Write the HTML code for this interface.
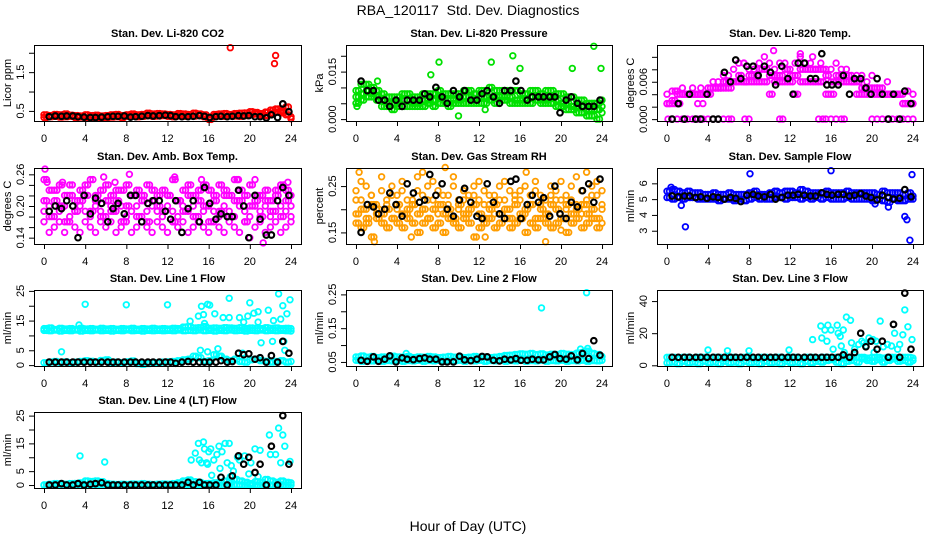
<!DOCTYPE html>
<html><head><meta charset="utf-8"><title>RBA_120117 Std. Dev. Diagnostics</title>
<style>
html,body{margin:0;padding:0;background:#fff;}
svg{display:block;font-family:"Liberation Sans",Arial,sans-serif;}
</style></head>
<body>
<svg id="chart" width="936" height="540" viewBox="0 0 936 540" xmlns="http://www.w3.org/2000/svg">
<rect width="936" height="540" fill="#fff"/>
<text x="468" y="15" font-size="14" text-anchor="middle" style="white-space:pre">RBA_120117  Std. Dev. Diagnostics</text>
<text x="468" y="531" font-size="14" text-anchor="middle">Hour of Day (UTC)</text>
</svg>
<script>
const hoursA = [0,0.5,1,1.5,2,2.5,3,3.5,4,4.5,5,5.5,6,6.5,7,7.5,8,8.5,9,9.5,10,10.5,11,11.5,12,12.5,13,13.5,14,14.5,15,15.5,16,16.5,17,17.5,18,18.5,19,19.5,20,20.5,21,21.5,22,22.5,23,23.5,24];
const hoursC = [0.25,0.75,1.25,1.75,2.25,2.75,3.25,3.75,4.25,4.75,5.25,5.75,6.25,6.75,7.25,7.75,8.25,8.75,9.25,9.75,10.25,10.75,11.25,11.75,12.25,12.75,13.25,13.75,14.25,14.75,15.25,15.75,16.25,16.75,17.25,17.75,18.25,18.75,19.25,19.75,20.25,20.75,21.25,21.75,22.25,22.75,23.25,23.75];
const hoursB = [0.5,1.1,1.7,2.2,2.8,3.3,3.9,4.5,5.0,5.6,6.2,6.7,7.2,7.8,8.4,8.9,9.5,10.1,10.6,11.2,11.8,12.3,12.8,13.4,14.0,14.5,15.1,15.6,16.1,16.7,17.2,17.8,18.3,18.9,19.4,19.9,20.5,21.0,21.6,22.1,22.7,23.2,23.8];
const xTicks = [0,4,8,12,16,20,24];

// CO2
const co2L1 = [0.33,0.35,0.36,0.34,0.35,0.36,0.33,0.34,0.32,0.33,0.31,0.32,0.33,0.34,0.35,0.33,0.36,0.37,0.35,0.36,0.38,0.36,0.37,0.38,0.36,0.35,0.37,0.36,0.38,0.37,0.39,0.35,0.33,0.36,0.37,0.36,0.38,0.37,0.36,0.38,0.40,0.42,0.39,0.38,0.44,0.47,0.50,0.40,0.35];
const co2L2 = [0.40,0.38,0.41,0.40,0.42,0.39,0.38,0.37,0.40,0.38,0.39,0.37,0.38,0.40,0.41,0.38,0.40,0.42,0.40,0.41,0.44,0.42,0.43,0.42,0.41,0.40,0.43,0.42,0.41,0.44,0.42,0.40,0.28,0.41,0.42,0.43,0.41,0.43,0.44,0.45,0.48,0.46,0.43,0.47,0.52,0.55,0.45,0.60,0.30];
const co2OutX = [18.1,22.4,22.5];
const co2OutY = [2.13,1.72,1.93];
const co2Black = [0.35,0.37,0.36,0.37,0.37,0.35,0.34,0.33,0.33,0.34,0.35,0.36,0.36,0.37,0.34,0.35,0.36,0.38,0.37,0.38,0.39,0.38,0.35,0.35,0.35,0.36,0.38,0.36,0.33,0.35,0.36,0.35,0.36,0.38,0.37,0.38,0.35,0.35,0.32,0.40,0.33,0.68,0.48];
const co2Ticks = [0.5,1.0,1.5,2.0];
const co2TickLabels = ["0.5","","1.5",""];

// Pressure
const presL1 = [0.009,0.011,0.011,0.010,0.009,0.008,0.007,0.007,0.007,0.008,0.008,0.007,0.007,0.008,0.008,0.008,0.009,0.008,0.008,0.008,0.008,0.009,0.009,0.008,0.009,0.009,0.010,0.009,0.009,0.009,0.009,0.009,0.008,0.008,0.009,0.009,0.008,0.009,0.009,0.008,0.008,0.007,0.007,0.006,0.006,0.005,0.005,0.005,0.006];
const presL2 = [0.007,0.008,0.009,0.008,0.007,0.006,0.005,0.005,0.005,0.006,0.006,0.005,0.005,0.006,0.006,0.006,0.007,0.006,0.006,0.006,0.006,0.007,0.007,0.006,0.007,0.007,0.007,0.007,0.007,0.007,0.007,0.006,0.006,0.006,0.007,0.007,0.006,0.006,0.007,0.006,0.005,0.005,0.004,0.004,0.004,0.003,0.003,0.003,0.004];
const presL3 = [0.005,0.006,0.007,0.007,0.006,0.004,0.004,0.003,0.004,0.004,0.004,0.004,0.004,0.004,0.005,0.004,0.005,0.005,0.004,0.005,0.005,0.005,0.005,0.005,0.005,0.005,0.006,0.005,0.006,0.006,0.005,0.005,0.005,0.005,0.005,0.006,0.005,0.005,0.005,0.004,0.004,0.003,0.003,0.002,0.002,0.001,0.001,0.000,0.002];
const presOutX = [0.1,2.1,7.3,8.1,10.0,12.6,13.2,15.3,16.0,21.1,23.2,23.9];
const presOutY = [0.004,0.012,0.014,0.018,0.001,0.003,0.018,0.020,0.016,0.016,0.023,0.016];
const presBlack = [0.012,0.009,0.009,0.006,0.006,0.004,0.006,0.004,0.006,0.006,0.006,0.008,0.007,0.010,0.007,0.005,0.009,0.007,0.009,0.006,0.006,0.008,0.009,0.007,0.005,0.009,0.009,0.012,0.009,0.006,0.007,0.007,0.007,0.007,0.007,0.002,0.006,0.007,0.005,0.004,0.004,0.004,0.006];
const presTicks = [0,0.005,0.010,0.015,0.020];
const presTickLabels = ["0.000","","","0.015",""];

// Temp
const tempZeroX = [0.1,0.5,1,1.5,2,2.5,3,3.5,4,4.5,5,5.5,6,6.3,7.6,8,11,11.3,14.8,15.2,15.5,16,16.5,17,17.3,20,20.5,21,21.5,22,22.5,23,23.5,24];
const tempZeroY = [0,0,0,0,0,0,0,0,0,0,0,0,0,0,0,0,0,0,0,0,0,0,0,0,0,0,0,0,0,0,0,0,0,0];
const tempL1 = [0.0025,0.003,0.004,0.004,0.004,0.004,0.004,0.004,0.004,0.005,0.005,0.005,0.005,0.006,0.007,0.006,0.007,0.007,0.008,0.008,0.007,0.007,0.007,0.008,0.007,0.007,0.008,0.008,0.008,0.008,0.008,0.007,0.006,0.007,0.007,0.007,0.006,0.006,0.005,0.005,0.005,0.005,0.004,0.004,0.004,0.004,0.0025,0.0025,0.0025];
const tempL2 = [0.004,0.0045,0.0045,0.005,0.004,0.005,0.0025,0.0025,0.004,0.006,0.006,0.007,0.007,0.008,0.009,0.009,0.008,0.008,0.009,0.010,0.009,0.008,0.009,0.009,0.008,0.009,0.010,0.009,0.009,0.008,0.009,0.008,0.008,0.009,0.008,0.008,0.007,0.007,0.007,0.006,0.007,0.005,0.005,0.006,0.004,0.004,0.004,0.0045,0.004];
const tempL3 = [0.0025,0.0025,0.0025,0.004,0.004,0.004,0.004,0.004,0.005,0.005,0.005,0.006,0.006,0.006,0.006,0.006,0.006,0.006,0.006,0.006,0.004,0.006,0.006,0.006,0.006,0.004,0.006,0.006,0.006,0.006,0.006,0.004,0.004,0.006,0.006,0.006,0.006,0.004,0.004,0.004,0.004,0.004,0.004,0.004,0.004,0.004,0.0025,0.0025,0.0025];
const tempOutX = [0.8,3.3,7.5,10.4,13,14.2];
const tempOutY = [0.0045,0.005,0.009,0.011,0.0105,0.010];
const tempBlack = [0.0,0.0025,0.0,0.004,0.0,0.0,0.004,0.0,0.0,0.0075,0.006,0.0095,0.0065,0.0085,0.0085,0.007,0.0085,0.0075,0.0055,0.0085,0.0065,0.004,0.009,0.009,0.0065,0.0065,0.0105,0.0055,0.0055,0.0055,0.007,0.004,0.0065,0.0065,0.005,0.004,0.0065,0.004,0.0,0.004,0.0,0.0045,0.0025];
const tempTicks = [0,0.002,0.004,0.006,0.008,0.010];
const tempTickLabels = ["0.000","","","0.006","",""];

// Amb box temp
const ambL1 = [0.25,0.23,0.21,0.24,0.22,0.24,0.21,0.23,0.22,0.25,0.21,0.23,0.24,0.22,0.21,0.23,0.24,0.22,0.23,0.22,0.24,0.21,0.22,0.23,0.22,0.25,0.21,0.23,0.24,0.22,0.21,0.24,0.23,0.22,0.24,0.23,0.22,0.25,0.21,0.22,0.24,0.21,0.22,0.23,0.21,0.22,0.24,0.23,0.22];
const ambL2 = [0.19,0.20,0.18,0.19,0.20,0.18,0.19,0.20,0.19,0.18,0.20,0.19,0.18,0.20,0.19,0.20,0.18,0.19,0.20,0.18,0.19,0.20,0.19,0.18,0.20,0.19,0.18,0.20,0.19,0.20,0.18,0.19,0.20,0.19,0.18,0.20,0.19,0.18,0.20,0.19,0.18,0.20,0.19,0.20,0.18,0.19,0.20,0.19,0.18];
const ambL3 = [0.17,0.15,0.16,0.17,0.15,0.17,0.16,0.15,0.17,0.16,0.15,0.17,0.16,0.17,0.15,0.16,0.17,0.15,0.16,0.17,0.16,0.15,0.17,0.16,0.15,0.17,0.16,0.17,0.15,0.16,0.17,0.16,0.15,0.17,0.16,0.15,0.17,0.16,0.15,0.17,0.14,0.16,0.17,0.15,0.16,0.17,0.15,0.16,0.17];
const ambL4 = [0.21,0.18,0.23,0.20,0.17,0.22,0.19,0.21,0.24,0.19,0.22,0.18,0.21,0.19,0.23,0.17,0.20,0.22,0.18,0.21,0.17,0.23,0.20,0.19,0.22,0.17,0.21,0.19,0.22,0.18,0.23,0.20,0.17,0.21,0.19,0.22,0.18,0.21,0.23,0.17,0.20,0.22,0.18,0.21,0.19,0.23,0.18,0.21,0.20];
const ambOutX = [0.1,0.3,1.8,5.8,6.9,8.3,12.7,15.3,18.9,20.5,23.7,21.3];
const ambOutY = [0.27,0.245,0.245,0.255,0.245,0.26,0.255,0.25,0.25,0.25,0.245,0.13];
const ambBlack = [0.19,0.20,0.195,0.21,0.20,0.14,0.22,0.185,0.215,0.205,0.17,0.195,0.205,0.185,0.22,0.22,0.17,0.205,0.21,0.21,0.19,0.175,0.21,0.15,0.195,0.21,0.17,0.235,0.205,0.175,0.185,0.18,0.18,0.23,0.20,0.14,0.22,0.175,0.145,0.145,0.21,0.235,0.22];
const ambTicks = [0.14,0.16,0.18,0.20,0.22,0.24,0.26];
const ambTickLabels = ["0.14","","","0.20","","","0.26"];

// RH
const rhL1 = [0.24,0.22,0.25,0.23,0.21,0.24,0.22,0.25,0.23,0.24,0.22,0.21,0.24,0.23,0.25,0.22,0.24,0.23,0.21,0.25,0.22,0.24,0.23,0.25,0.22,0.24,0.21,0.23,0.25,0.22,0.24,0.23,0.22,0.25,0.21,0.24,0.23,0.22,0.25,0.24,0.22,0.23,0.25,0.21,0.24,0.22,0.25,0.23,0.24];
const rhL2 = [0.19,0.20,0.18,0.21,0.20,0.19,0.20,0.18,0.21,0.19,0.20,0.21,0.19,0.20,0.18,0.20,0.21,0.19,0.20,0.18,0.21,0.19,0.20,0.21,0.19,0.18,0.20,0.21,0.19,0.20,0.18,0.21,0.19,0.20,0.21,0.18,0.20,0.19,0.21,0.20,0.18,0.21,0.19,0.20,0.21,0.19,0.20,0.18,0.21];
const rhL3 = [0.17,0.16,0.17,0.14,0.18,0.17,0.16,0.18,0.17,0.16,0.18,0.17,0.15,0.17,0.18,0.16,0.17,0.15,0.18,0.17,0.16,0.18,0.17,0.14,0.16,0.17,0.18,0.16,0.17,0.18,0.16,0.17,0.18,0.15,0.17,0.16,0.18,0.17,0.16,0.17,0.18,0.15,0.17,0.18,0.16,0.17,0.18,0.16,0.17];
const rhL4 = [0.22,0.26,0.20,0.23,0.19,0.27,0.21,0.23,0.20,0.26,0.19,0.22,0.27,0.20,0.22,0.26,0.19,0.21,0.23,0.27,0.20,0.22,0.19,0.23,0.26,0.21,0.23,0.19,0.22,0.26,0.20,0.22,0.24,0.19,0.23,0.26,0.21,0.19,0.23,0.22,0.26,0.20,0.22,0.27,0.19,0.21,0.23,0.26,0.20];
const rhOutX = [0.3,1.8,6.5,8.7,16.6,18.5,22.5,5.4,12.6,20.0];
const rhOutY = [0.28,0.13,0.28,0.29,0.28,0.13,0.28,0.14,0.14,0.155];
const rhBlack = [0.15,0.21,0.205,0.19,0.20,0.235,0.21,0.185,0.255,0.235,0.215,0.22,0.275,0.23,0.255,0.20,0.185,0.22,0.245,0.215,0.185,0.18,0.255,0.215,0.19,0.18,0.26,0.265,0.18,0.21,0.23,0.215,0.225,0.185,0.25,0.19,0.18,0.215,0.205,0.24,0.255,0.215,0.265];
const rhTicks = [0.15,0.20,0.25];
const rhTickLabels = ["0.15","","0.25"];

// Sample flow
const sfL1 = [5.5,5.6,5.5,5.4,5.5,5.4,5.4,5.3,5.3,5.4,5.3,5.3,5.4,5.3,5.3,5.3,5.4,5.5,5.3,5.3,5.4,5.5,5.4,5.5,5.5,5.4,5.6,5.5,5.4,5.4,5.4,5.5,5.4,5.4,5.4,5.5,5.4,5.4,5.4,5.4,5.4,5.3,5.5,5.4,5.4,5.4,5.3,5.4,5.2];
const sfL2 = [5.1,5.0,5.1,5.0,5.1,5.1,5.0,5.0,5.0,5.0,4.9,5.0,5.0,4.9,5.0,4.9,5.0,5.1,5.0,5.0,5.0,5.1,5.1,5.0,5.1,5.1,5.0,5.1,5.0,5.1,5.0,5.1,5.0,5.0,5.0,5.1,5.0,5.0,5.0,5.0,4.9,5.0,4.9,4.8,5.0,4.9,4.9,5.0,5.0];
const sfOutX = [0.4,1.4,1.8,8.1,16,20.3,21.6,23.2,23.4,23.7,23.9];
const sfOutY = [5.75,4.6,3.25,6.6,6.8,4.7,4.5,3.9,3.7,2.4,6.55];
const sfBlack = [5.2,5.15,5.2,5.2,5.1,5.15,5.05,5.15,5.1,5.0,5.1,5.05,4.85,5.25,5.3,5.2,5.15,5.3,5.0,5.1,5.25,5.25,5.3,5.25,5.2,5.2,5.4,5.3,5.25,5.3,5.3,5.2,5.25,5.35,5.2,5.1,4.95,5.25,5.1,5.0,5.05,5.6,5.15];
const sfTicks = [3,4,5,6];
const sfTickLabels = ["3","4","5","6"];

// Line 1
const l1A = [12.3,12.5,12.0,12.4,12.2,12.3,12.0,12.4,12.2,12.3,12.1,12.4,12.2,12.3,12.1,12.3,12.2,12.4,12.1,12.3,12.2,12.4,12.2,12.3,12.2,12.4,12.3,12.8,13.0,12.5,12.6,13.0,12.4,12.5,12.4,12.6,12.5,12.4,12.6,12.3,12.5,12.4,12.3,12.6,12.4,12.5,12.3,12.4,12.3];
const l1B = [11.7,11.6,11.8,11.5,11.7,11.6,11.8,11.5,11.7,11.6,11.8,11.6,11.7,11.5,11.7,11.6,11.8,11.6,11.7,11.5,11.7,11.6,11.7,11.6,11.7,11.6,11.8,11.6,11.7,11.6,11.8,11.6,11.7,11.5,11.7,11.6,11.8,11.6,11.7,11.5,11.7,11.6,11.8,11.6,11.7,11.6,11.7,11.6,11.5];
const l1Low = [0.8,1.0,1.2,0.9,1.1,0.8,1.0,1.2,1.5,1.3,1.0,1.6,1.8,0.6,1.0,0.8,1.1,1.4,0.5,0.3,0.5,0.9,0.8,1.0,1.1,1.2,1.5,1.8,2.0,3.0,2.5,1.2,1.5,3.5,3.0,2.0,1.5,2.0,1.2,1.0,1.8,2.0,1.5,1.3,1.0,1.2,1.5,1.0,1.2];
const l1OutX = [1.7,3.4,4.0,8.0,12.0,14.2,15.0,15.3,15.5,15.6,15.9,16.1,16.6,17.4,18.0,18.0,19.0,19.4,19.8,20.0,20.4,20.8,20.8,21.1,21.8,22.2,22.3,22.8,23.0,23.2,23.4,23.6,23.9,15.2,15.9,16.9,17.1,19.3,23.3];
const l1OutY = [4.5,13.5,20.5,20.3,20.3,14.8,16.5,19.8,17.0,14.0,20.5,20.2,17.3,16.0,22.5,16.0,16.0,14.5,16.5,21.0,17.5,18.0,14.5,7.5,18.5,8.0,15.0,24.0,15.5,20.0,5.0,17.3,22.0,5.0,4.5,5.5,3.0,4.0,8.0];
const l1Black = [1,1,1,1,1,1,1,1,1,1,1,1,1,1,1,1,1,1,1,1,1,1,0.6,1,1.2,1,1,1,1,1,1.5,1,1.2,4,3.5,3.8,2,2.5,1,3.2,1,8,4];
const l1Ticks = [0,5,10,15,20,25];
const l1TickLabels = ["0","5","","15","","25"];

// Line 2
const l2A = [0.065,0.068,0.064,0.066,0.063,0.065,0.064,0.067,0.065,0.064,0.066,0.063,0.065,0.064,0.066,0.065,0.063,0.064,0.066,0.064,0.065,0.063,0.064,0.066,0.064,0.065,0.063,0.064,0.066,0.069,0.070,0.072,0.074,0.073,0.075,0.072,0.074,0.071,0.073,0.072,0.075,0.073,0.072,0.076,0.078,0.082,0.075,0.072,0.066];
const l2B = [0.055,0.052,0.054,0.053,0.055,0.052,0.054,0.053,0.055,0.052,0.054,0.053,0.055,0.052,0.054,0.053,0.055,0.052,0.054,0.053,0.055,0.052,0.054,0.053,0.055,0.052,0.054,0.053,0.055,0.052,0.054,0.053,0.055,0.052,0.054,0.053,0.055,0.052,0.054,0.053,0.055,0.052,0.054,0.053,0.055,0.052,0.054,0.053,0.055];
const l2OutX = [18.1,22.5,21.9,22.6,4.9];
const l2OutY = [0.21,0.255,0.088,0.09,0.075];
const l2Black = [0.055,0.052,0.065,0.052,0.058,0.068,0.05,0.062,0.058,0.057,0.06,0.062,0.058,0.058,0.05,0.05,0.05,0.067,0.056,0.054,0.058,0.066,0.065,0.055,0.053,0.058,0.056,0.06,0.055,0.055,0.058,0.056,0.056,0.065,0.072,0.06,0.058,0.068,0.056,0.075,0.06,0.113,0.07];
const l2Ticks = [0.05,0.10,0.15,0.20,0.25];
const l2TickLabels = ["0.05","","0.15","","0.25"];

// Line 3
const l3A = [5,5,4.5,5,5,4.5,5,5,4.5,5,5,4.5,5,5,4.5,5,5,4.5,5,5,4.5,5,5,4.5,5,5,4.5,5,5,4.5,5,5,4.5,5,5,4.5,5,5,5,4.5,5,5,4.5,5,5,4.5,5,5,4.5];
const l3B = [1.5,2,1,2.5,1.5,2,1,2.5,1.5,2,1,2.5,1.5,2,1,2.5,1.5,2,1,2.5,1.5,2,1,2.5,1.5,2,1,2.5,1.5,2.5,2,3,3.5,2,1,2.5,3,2,4,3,2.5,3.5,2,3,4,2.5,3,2,3];
const l3OutX = [4.0,5.9,8.0,11.9,14.2,15.0,15.1,15.4,15.6,15.7,16.0,16.2,16.6,16.7,17.0,17.2,17.5,17.9,18.0,18.3,18.7,19.0,19.4,19.7,20.1,20.4,20.8,21.1,21.5,21.9,22.2,22.5,22.7,23.0,23.2,23.5,23.9,16.9,17.3,19.2,20.2];
const l3OutY = [9.5,9.0,9.0,9.5,16,24.5,17,22,15,25,22,10,25,20,12,22,30,28,14,10,13,15,12,17,16,15,27.5,11.5,13,12,20,10,13,19,34.5,24,16,18,8,14,8];
const l3Black = [5,5,5,5,5,5,5,5,5,5,5,5,5,5,5,5,5,5,5,5,5,5,5,5,5,5,5,5,5,5,6.5,5,8,20,11.5,15,10,15,5,25.5,5,45,10];
const l3Ticks = [0,20,40];
const l3TickLabels = ["0","20","40"];

// Line 4
const l4A = [0,0.3,0.5,0.4,0.3,0.5,0.6,0.8,1.5,1.3,1.5,1.2,0.5,0.3,0.2,0.3,0.2,0.4,0.3,0.5,0.3,0.2,0.3,0.4,0.3,0.5,0.8,1.5,1.8,1.2,1.0,0.5,0.6,0.8,1.0,1.5,1.0,2.0,1.5,1.0,0.5,1.2,1.0,2.0,1.5,1.0,1.5,1.0,0.8];
const l4B = [0,0,0,0,0,0,0,0,0,0,0,0,0,0,0,0,0,0,0,0,0,0,0,0,0,0,0,0,0,0,0,0,0,0,0,0,0,0,0,0,0,0,0,0,0,0,0,0,0];
const l4OutX = [3.5,5.9,14.3,14.7,15.0,15.1,15.3,15.5,15.6,15.8,16.0,16.2,16.5,16.8,17.0,17.3,17.6,17.8,18.0,18.2,18.4,18.8,19.0,19.5,19.9,20.1,20.5,20.8,21.0,21.9,22.0,22.5,22.8,23.0,23.2,23.4,23.9,15.9,16.3,17.1,18.1];
const l4OutY = [10.5,8.3,9,11.5,15,9,8,15.5,13,8,12,13,9,11,14,12,15,8,15,7,5,10,9,10.5,4,8,13,3,12.5,18,11,11,20.5,8,18,14,8.5,7.5,3.5,6,3];
const l4Black = [0,0,0.5,0,0,0.5,0,0.3,0.5,0.8,0,0,0,0,0,0,0,0,0,0,0,0,0,0,1,0,1,0,0,0,2.8,0,3.3,10.5,7.5,10,4.5,7.5,0,14,0,25,7.5];
const l4Ticks = [0,5,10,15,20,25];
const l4TickLabels = ["0","5","","15","","25"];

const panels = [
 {key:"co2", title:"Stan. Dev. Li-820 CO2", ylab:"Licor ppm", col:0,row:0, ymin:0.24,ymax:2.2, color:"#ff0000",
  layers:[[hoursA,co2L1],[hoursA,co2L2],[hoursC,co2L2],[hoursC,co2L1],[co2OutX,co2OutY]], black:co2Black, ticks:co2Ticks, labels:co2TickLabels},
 {key:"pressure", title:"Stan. Dev. Li-820 Pressure", ylab:"kPa", col:1,row:0, ymin:-0.0006,ymax:0.0234, color:"#00e000",
  layers:[[hoursA,presL1],[hoursA,presL2],[hoursA,presL3],[hoursC,presL2],[hoursC,presL1],[hoursC,presL3],[presOutX,presOutY]], black:presBlack, ticks:presTicks, labels:presTickLabels},
 {key:"temp", title:"Stan. Dev. Li-820 Temp.", ylab:"degrees C", col:2,row:0, ymin:-0.0003,ymax:0.0119, color:"#ff00ff",
  layers:[[tempZeroX,tempZeroY],[hoursA,tempL1],[hoursA,tempL2],[hoursA,tempL3],[hoursC,tempL1],[hoursC,tempL3],[tempOutX,tempOutY]], black:tempBlack, ticks:tempTicks, labels:tempTickLabels},
 {key:"amb-box", title:"Stan. Dev. Amb. Box Temp.", ylab:"degrees C", col:0,row:1, ymin:0.128,ymax:0.272, color:"#ff00ff",
  layers:[[hoursA,ambL1],[hoursA,ambL2],[hoursA,ambL3],[hoursA,ambL4],[hoursC,ambL4],[hoursC,ambL1],[ambOutX,ambOutY]], black:ambBlack, ticks:ambTicks, labels:ambTickLabels},
 {key:"gas-rh", title:"Stan. Dev. Gas Stream RH", ylab:"percent", col:1,row:1, ymin:0.125,ymax:0.289, color:"#ff9d00",
  layers:[[hoursA,rhL1],[hoursA,rhL2],[hoursA,rhL3],[hoursA,rhL4],[hoursC,rhL2],[hoursC,rhL3],[rhOutX,rhOutY]], black:rhBlack, ticks:rhTicks, labels:rhTickLabels},
 {key:"sample-flow", title:"Stan. Dev. Sample Flow", ylab:"ml/min", col:2,row:1, ymin:2.16,ymax:6.97, color:"#0000ff",
  layers:[[hoursA,sfL1],[hoursA,sfL2],[hoursC,sfL2],[hoursC,sfL1],[sfOutX,sfOutY]], black:sfBlack, ticks:sfTicks, labels:sfTickLabels},
 {key:"line1", title:"Stan. Dev. Line 1 Flow", ylab:"ml/min", col:0,row:2, ymin:-0.3,ymax:25.3, color:"#00ffff",
  layers:[[hoursA,l1A],[hoursA,l1B],[hoursC,l1B],[hoursC,l1A],[hoursA,l1Low],[hoursC,l1Low],[l1OutX,l1OutY]], black:l1Black, ticks:l1Ticks, labels:l1TickLabels},
 {key:"line2", title:"Stan. Dev. Line 2 Flow", ylab:"ml/min", col:1,row:2, ymin:0.038,ymax:0.263, color:"#00ffff",
  layers:[[hoursA,l2A],[hoursA,l2B],[hoursC,l2B],[hoursC,l2A],[l2OutX,l2OutY]], black:l2Black, ticks:l2Ticks, labels:l2TickLabels},
 {key:"line3", title:"Stan. Dev. Line 3 Flow", ylab:"ml/min", col:2,row:2, ymin:-0.44,ymax:46.9, color:"#00ffff",
  layers:[[hoursA,l3A],[hoursA,l3B],[hoursC,l3B],[hoursC,l3A],[l3OutX,l3OutY]], black:l3Black, ticks:l3Ticks, labels:l3TickLabels},
 {key:"line4", title:"Stan. Dev. Line 4 (LT) Flow", ylab:"ml/min", col:0,row:3, ymin:-1.07,ymax:26.3, color:"#00ffff",
  layers:[[hoursA,l4A],[hoursA,l4B],[hoursC,l4B],[hoursC,l4A],[l4OutX,l4OutY]], black:l4Black, ticks:l4Ticks, labels:l4TickLabels}
];

const NS = "http://www.w3.org/2000/svg";
const svg = document.getElementById("chart");
function mk(tag, attrs, parent){
  const e = document.createElementNS(NS, tag);
  for (const k in attrs) e.setAttribute(k, attrs[k]);
  parent.appendChild(e);
  return e;
}
const colLeft = [34, 346, 657];
const colRight = [301, 612, 923];
const rowTop = [45, 168, 290, 412];
const boxH = 76;

panels.forEach(p => {
  const L = colLeft[p.col], R = colRight[p.col], T = rowTop[p.row], B = T + boxH;
  const g = mk("g", {}, svg);
  
  
  const xPad = (R - L) * 0.0375;
  const xs = h => L + xPad + (h / 24) * (R - L - 2 * xPad);
  const ys = v => B - (v - p.ymin) / (p.ymax - p.ymin) * (B - T);
  const pts = mk("g", {fill:"none", stroke:p.color, "stroke-width":"1.8"}, g);
  
  
  p.layers.forEach(ly => {
    const hx = ly[0], vy = ly[1];
    const n = Math.min(hx.length, vy.length);
    for (let i = 0; i < n; i++) {
      const c = mk("circle", {cx:xs(hx[i]).toFixed(1), cy:ys(vy[i]).toFixed(1), r:"2.8"}, pts);
      
      
    }
  });
  const bk = mk("g", {fill:"none", stroke:"#000", "stroke-width":"2.1"}, g);
  
  
  for (let i = 0; i < p.black.length; i++) {
    const c = mk("circle", {cx:xs(hoursB[i]).toFixed(1), cy:ys(p.black[i]).toFixed(1), r:"2.8"}, bk);
    
    
  }
  const box = mk("rect", {x:L+0.5, y:T+0.5, width:R-L, height:boxH, fill:"none", stroke:"#000", "stroke-width":"1"}, g);
  
  
  const xa = mk("g", {}, g);
  
  
  mk("line", {x1:xs(0), x2:xs(24), y1:B+0.5, y2:B+0.5, stroke:"#000"}, xa);
  xTicks.forEach(t => {
    mk("line", {x1:xs(t)+0.5, x2:xs(t)+0.5, y1:B, y2:B+5, stroke:"#000"}, xa);
    const tx = mk("text", {x:xs(t), y:B+21, "font-size":"11", "text-anchor":"middle"}, xa);
    tx.textContent = String(t);
    
    
  });
  const ya = mk("g", {}, g);
  
  
  mk("line", {x1:L+0.5, x2:L+0.5, y1:ys(p.ticks[0]), y2:ys(p.ticks[p.ticks.length-1]), stroke:"#000"}, ya);
  p.ticks.forEach((t, i) => {
    const yy = ys(t);
    mk("line", {x1:L-5, x2:L, y1:yy+0.5, y2:yy+0.5, stroke:"#000"}, ya);
    if (p.labels[i]) {
      const tx = mk("text", {x:0, y:0, "font-size":"11", "text-anchor":"middle",
        transform:"translate(" + (L-10) + "," + yy + ") rotate(-90)"}, ya);
      tx.textContent = p.labels[i];
      
      
    }
  });
  const yl = mk("text", {x:0, y:0, "font-size":"11", "text-anchor":"middle",
    transform:"translate(" + (L-23) + "," + ((T+B)/2) + ") rotate(-90)"}, g);
  yl.textContent = p.ylab;
  
  
  const tt = mk("text", {x:(L+R)/2, y:T-8, "font-size":"11", "font-weight":"bold", "text-anchor":"middle"}, g);
  tt.textContent = p.title;
  
  
});
</script>
</body></html>
